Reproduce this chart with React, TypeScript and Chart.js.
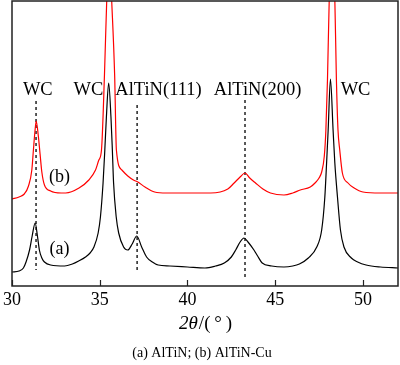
import React, { useEffect, useRef } from "react";
import { Chart, registerables } from "chart.js";

Chart.register(...registerables);

// Curve (a) AlTiN — black
const aX = [30.0, 30.4, 30.65, 30.8, 31.0, 31.15, 31.32, 31.45, 31.56, 31.7, 31.85, 32.2, 33.0, 33.44, 33.8, 34.19, 34.45, 34.67, 34.91, 35.04, 35.19, 35.29, 35.38, 35.51, 35.64, 35.72, 35.79, 35.94, 36.08, 36.36, 36.6, 36.85, 37.11, 37.39, 37.67, 38.0, 38.33, 39.0, 40.0, 41.0, 41.6, 42.1, 42.5, 42.75, 43.0, 43.22, 43.45, 43.79, 44.0, 44.26, 44.8, 45.5, 46.0, 46.38, 46.89, 47.37, 47.65, 47.83, 47.93, 48.02, 48.15, 48.3, 48.4, 48.55, 48.72, 48.92, 49.34, 49.7, 50.18, 51.0, 52.0];
const aY = [14, 15, 18, 24, 36, 50, 63, 50, 36, 28, 24, 21, 20, 22, 25, 29, 33, 39, 53, 69, 103, 136, 169, 203, 169, 136, 103, 69, 53, 39, 36, 42, 50, 39, 29, 24, 21, 20, 19, 18, 20, 23, 29, 36, 44, 48, 44, 36, 30, 23, 20, 19, 20, 22, 28, 39, 56, 89, 123, 156, 207, 156, 123, 89, 56, 39, 28, 24, 21, 19, 18];

// Curve (b) AlTiN-Cu — red
const bX = [30.0, 30.4, 30.7, 30.94, 31.13, 31.22, 31.3, 31.38, 31.5, 31.6, 31.7, 31.85, 32.2, 32.8, 33.06, 33.82, 34.38, 34.76, 34.95, 35.1, 35.27, 35.4, 35.54, 35.68, 35.85, 35.95, 36.26, 36.6, 36.92, 37.17, 37.58, 38.13, 38.8, 39.5, 40.3, 41.33, 42.3, 42.66, 43.0, 43.28, 43.55, 43.88, 44.3, 44.73, 45.5, 46.0, 46.43, 47.0, 47.27, 47.5, 47.65, 47.8, 47.89, 47.98, 48.08, 48.24, 48.4, 48.49, 48.58, 48.68, 48.83, 49.15, 49.5, 50.0, 51.0, 52.0];
const bY = [87, 89, 92, 100, 116, 136, 153, 165, 150, 132, 114, 101, 95, 93, 93, 98, 106, 116, 126, 136, 211, 286, 340, 286, 211, 136, 116, 110, 106, 104, 99, 94, 93, 93, 93, 93, 97, 103, 109, 113, 108, 103, 97, 93, 91, 93, 96, 99, 103, 108, 114, 130, 156, 206, 286, 345, 286, 206, 156, 136, 113, 103, 98, 94, 93, 93];

// Reference (dashed) lines
const refX = [31.37, 37.13, 43.28];
const refTop = [185, 181, 186];
const refBottom = [16, 13, 9];

// Peak labels
const peakLabels = ["WC", "WC", "AlTiN(111)", "AlTiN(200)", "WC"];
const peakLabelX = [31.47, 34.35, 38.35, 44.0, 49.58];
const peakLabelY = [191, 191, 191, 191, 191];

// Curve labels
const curveLabels = ["(a)", "(b)"];
const curveLabelX = [32.71, 32.71];
const curveLabelY = [37, 109];

const xTicks = [30, 35, 40, 45, 50];
const caption = "(a) AlTiN; (b) AlTiN-Cu";

const SERIF = "'Liberation Serif', 'Times New Roman', serif";

const decorPlugin = {
  id: "decor",
  afterDatasetsDraw(chart: any) {
    const { ctx, chartArea, scales } = chart;
    const xs = scales.x;
    const ys = scales.y;
    ctx.save();
    // inward ticks
    ctx.strokeStyle = "#222";
    ctx.lineWidth = 1.2;
    xTicks.forEach((v) => {
      const px = Math.round(xs.getPixelForValue(v)) + 0.5;
      ctx.beginPath();
      ctx.moveTo(px, chartArea.bottom);
      ctx.lineTo(px, chartArea.bottom - 6);
      ctx.stroke();
    });
    // frame
    ctx.lineWidth = 1.5;
    ctx.strokeRect(chartArea.left, chartArea.top, chartArea.right - chartArea.left, chartArea.bottom - chartArea.top);

    ctx.fillStyle = "#000";
    ctx.font = `18.5px ${SERIF}`;
    ctx.textAlign = "center";
    ctx.textBaseline = "alphabetic";
    peakLabels.forEach((t, i) => {
      ctx.fillText(t, xs.getPixelForValue(peakLabelX[i]), ys.getPixelForValue(peakLabelY[i]));
    });
    ctx.font = `18px ${SERIF}`;
    ctx.textBaseline = "middle";
    curveLabels.forEach((t, i) => {
      ctx.fillText(t, xs.getPixelForValue(curveLabelX[i]), ys.getPixelForValue(curveLabelY[i]));
    });

    // axis title: 2θ/(°)
    const cx = (chartArea.left + chartArea.right) / 2;
    const ty = 329;
    ctx.textBaseline = "alphabetic";
    ctx.textAlign = "left";
    const p1 = "2\u03B8";
    const p2 = "/(\u2009\u00B0\u2009)";
    ctx.font = `italic 19px ${SERIF}`;
    const w1 = ctx.measureText(p1).width;
    ctx.font = `19px ${SERIF}`;
    const w2 = ctx.measureText(p2).width;
    const start = cx - (w1 + w2) / 2;
    ctx.font = `italic 19px ${SERIF}`;
    ctx.fillText(p1, start, ty);
    ctx.font = `19px ${SERIF}`;
    ctx.fillText(p2, start + w1 + 1, ty);

    // caption
    ctx.textAlign = "center";
    ctx.font = `14px ${SERIF}`;
    ctx.fillText(caption, 202, 357);
    ctx.restore();
  },
};

export default function App() {
  const ref = useRef<HTMLCanvasElement>(null);
  useEffect(() => {
    if (!ref.current) return;
    const datasets: any[] = [
      {
        label: "(a)",
        data: aX.map((x, i) => ({ x, y: aY[i] })),
        borderColor: "#000000",
        borderWidth: 1.2,
        pointRadius: 0,
        tension: 0.3,
        cubicInterpolationMode: "monotone",
      },
      {
        label: "(b)",
        data: bX.map((x, i) => ({ x, y: bY[i] })),
        borderColor: "#ff0000",
        borderWidth: 1.2,
        pointRadius: 0,
        tension: 0.3,
        cubicInterpolationMode: "monotone",
      },
    ];
    refX.forEach((x, i) => {
      datasets.push({
        label: "ref" + i,
        data: [
          { x, y: refTop[i] },
          { x, y: refBottom[i] },
        ],
        borderColor: "#000000",
        borderWidth: 1.3,
        borderDash: [3, 3],
        pointRadius: 0,
      });
    });
    const chart = new Chart(ref.current, {
      type: "line",
      data: { datasets },
      options: {
        animation: false,
        responsive: false,
        maintainAspectRatio: false,
        layout: { padding: { left: 9, right: 2, top: 1, bottom: 0 } },
        plugins: { legend: { display: false }, tooltip: { enabled: false } },
        scales: {
          x: {
            type: "linear",
            min: 30,
            max: 52,
            grid: { display: false, drawTicks: false },
            border: { display: false },
            ticks: {
              stepSize: 5,
              includeBounds: false,
              autoSkip: false,
              maxRotation: 0,
              padding: 3,
              color: "#000",
              font: { family: SERIF, size: 18 },
            },
            afterFit: (scale: any) => {
              scale.height = 79;
            },
          },
          y: { display: false, min: 0, max: 285 },
        },
      },
      plugins: [decorPlugin],
    });
    return () => chart.destroy();
  }, []);
  return (
    <div style={{ position: "fixed", left: 0, top: 0, width: 400, height: 365, background: "#fff" }}>
      <canvas ref={ref} width={400} height={365} style={{ width: 400, height: 365 }} />
    </div>
  );
}
